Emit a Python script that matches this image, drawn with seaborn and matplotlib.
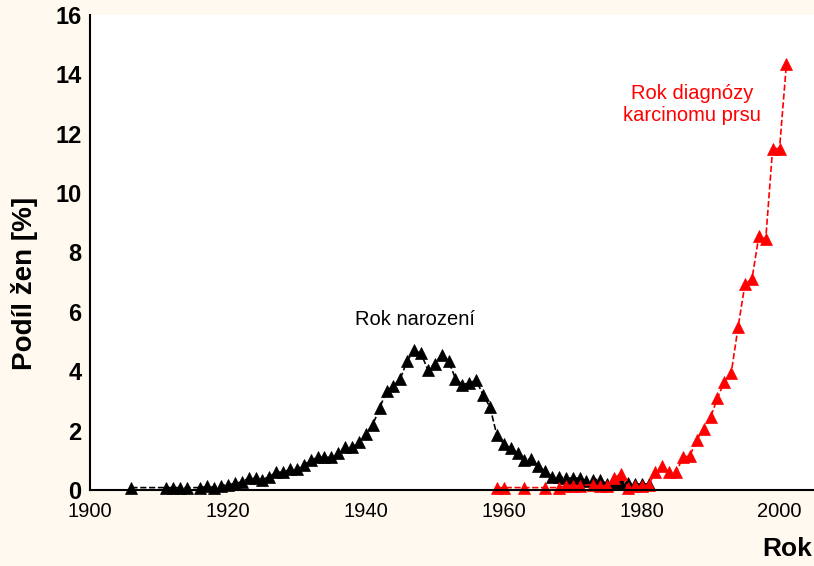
import numpy as np
import pandas as pd
import seaborn as sns
import matplotlib.pyplot as plt
from matplotlib.ticker import MultipleLocator


# Rok narození (birth year of the women)
birth_years = [1906, 1911, 1912, 1913, 1914, 1916, 1917, 1918, 1919, 1920,
               1921, 1922, 1923, 1924, 1925, 1926, 1927, 1928, 1929, 1930,
               1931, 1932, 1933, 1934, 1935, 1936, 1937, 1938, 1939, 1940,
               1941, 1942, 1943, 1944, 1945, 1946, 1947, 1948, 1949, 1950,
               1951, 1952, 1953, 1954, 1955, 1956, 1957, 1958, 1959, 1960,
               1961, 1962, 1963, 1964, 1965, 1966, 1967, 1968, 1969, 1970,
               1971, 1972, 1973, 1974, 1975, 1976, 1977, 1978, 1979, 1980,
               1981]
birth_share = [0.08, 0.08, 0.08, 0.08, 0.08, 0.08, 0.12, 0.08, 0.15, 0.17,
               0.22, 0.27, 0.4, 0.4, 0.35, 0.45, 0.6, 0.6, 0.7, 0.7,
               0.85, 1.0, 1.1, 1.1, 1.1, 1.25, 1.45, 1.45, 1.6, 1.9,
               2.2, 2.75, 3.35, 3.5, 3.75, 4.35, 4.7, 4.6, 4.05, 4.25,
               4.55, 4.35, 3.75, 3.55, 3.6, 3.7, 3.2, 2.8, 1.85, 1.55,
               1.4, 1.25, 1.0, 1.05, 0.8, 0.63, 0.45, 0.45, 0.4, 0.4,
               0.4, 0.3, 0.35, 0.35, 0.2, 0.2, 0.25, 0.25, 0.2, 0.2,
               0.2]

# Rok diagnózy karcinomu prsu (year of diagnosis)
diag_years = [1959, 1960, 1963, 1966, 1968, 1969, 1970, 1971, 1973, 1974,
              1975, 1976, 1977, 1978, 1979, 1980, 1981, 1982, 1983, 1984,
              1985, 1986, 1987, 1988, 1989, 1990, 1991, 1992, 1993, 1994,
              1995, 1996, 1997, 1998, 1999, 2000, 2001]
diag_share = [0.08, 0.08, 0.08, 0.08, 0.08, 0.15, 0.15, 0.15, 0.18, 0.12,
              0.15, 0.4, 0.55, 0.08, 0.12, 0.12, 0.18, 0.6, 0.8, 0.6,
              0.6, 1.1, 1.15, 1.7, 2.05, 2.45, 3.1, 3.65, 3.95, 5.5,
              6.95, 7.1, 8.55, 8.45, 11.5, 11.5, 14.35]

sns.set_theme(style="white")
plt.rcParams["font.family"] = ["Liberation Sans", "DejaVu Sans"]
plt.rcParams["text.color"] = "black"
plt.rcParams["axes.labelcolor"] = "black"
plt.rcParams["xtick.color"] = "black"
plt.rcParams["ytick.color"] = "black"

fig = plt.figure(figsize=(8.14, 5.66), dpi=100, facecolor="#fff9ef")
ax = fig.add_axes([0.1106, 0.1343, 0.8894, 0.8392])
ax.set_facecolor("white")

sns.lineplot(x=birth_years, y=birth_share, ax=ax, color="black",
             marker="^", markersize=8, markeredgecolor="black",
             markeredgewidth=0.5, linewidth=1.2, linestyle="--",
             dashes=(4, 3), clip_on=False)
sns.lineplot(x=diag_years, y=diag_share, ax=ax, color="red",
             marker="^", markersize=8, markeredgecolor="red",
             markeredgewidth=0.5, linewidth=1.2, linestyle="--",
             dashes=(4, 3), clip_on=False)

ax.text(1947.1, 5.73, "Rok narození", fontsize=14.5, color="black",
        ha="center", va="center")
ax.text(1987.3, 13.0, "Rok diagnózy\nkarcinomu prsu", fontsize=14.5,
        color="red", ha="center", va="center", linespacing=1.2)

ax.set_xlim(1900, 2005)
ax.set_ylim(0, 16)
ax.xaxis.set_major_locator(MultipleLocator(20))
ax.xaxis.set_minor_locator(MultipleLocator(4))
ax.yaxis.set_major_locator(MultipleLocator(2))
ax.yaxis.set_minor_locator(MultipleLocator(1))

ax.tick_params(axis="both", which="both", direction="in", length=3,
               width=1, color="black")
ax.tick_params(axis="x", which="major", labelsize=14.5, pad=9)
ax.tick_params(axis="y", which="major", labelsize=17, pad=6)
for lab in ax.get_yticklabels():
    lab.set_fontweight("bold")

for side in ["top", "right"]:
    ax.spines[side].set_visible(False)
for side in ["left", "bottom"]:
    ax.spines[side].set_color("black")
    ax.spines[side].set_linewidth(1.5)

ax.set_ylabel("Podíl žen [%]", fontsize=20, fontweight="bold")
ax.yaxis.set_label_coords(-0.072, 0.435)
ax.set_xlabel("Rok", fontsize=19, fontweight="bold", loc="right")
ax.xaxis.set_label_coords(0.997, -0.099)

fig.savefig("out.png", dpi=100, facecolor=fig.get_facecolor())
